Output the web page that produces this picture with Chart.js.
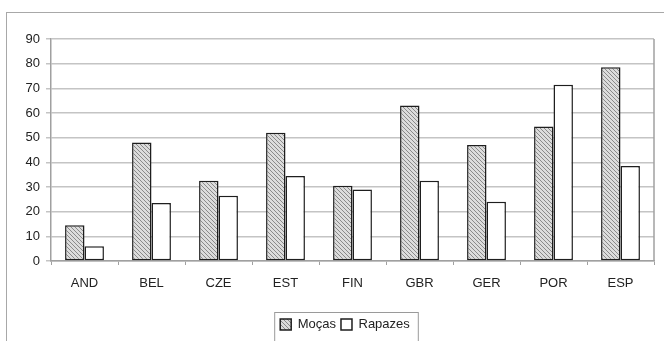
<!DOCTYPE html>
<html>
<head>
<meta charset="utf-8">
<script src="https://cdn.jsdelivr.net/npm/chart.js@4"></script>
<style>
  body { margin: 0; background: #fff; }
  #wrap { position: relative; width: 664px; height: 341px; }
  #frame { position: absolute; left: 6px; top: 12px; width: 670px; height: 340px;
           border-top: 1.5px solid #a8a8a8; border-left: 1.5px solid #a8a8a8; }
  canvas { position: absolute; left: 0; top: 0; }
</style>
</head>
<body>
<div id="wrap">
  <div id="frame"></div>
  <canvas id="barchart" width="664" height="341"></canvas>
</div>
<script>
var countries = ["AND", "BEL", "CZE", "EST", "FIN", "GBR", "GER", "POR", "ESP"];
var mocas = [14.5, 48, 32.5, 52, 30.5, 63, 47, 54.5, 78.5];
var rapazes = [6, 23.5, 26.5, 34.5, 29, 32.5, 24, 71.5, 38.5];
var yTicks = [0, 10, 20, 30, 40, 50, 60, 70, 80, 90];

function hatch() {
  var c = document.createElement("canvas");
  c.width = 4; c.height = 4;
  var g = c.getContext("2d");
  g.fillStyle = "#dcdcdc";
  g.fillRect(0, 0, 4, 4);
  g.strokeStyle = "#8a8a8a";
  g.lineWidth = 1;
  g.beginPath();
  g.moveTo(-1, -1); g.lineTo(5, 5);
  g.moveTo(-1, 3); g.lineTo(1, 5);
  g.moveTo(3, -1); g.lineTo(5, 1);
  g.stroke();
  return g.createPattern(c, "repeat");
}

var ctx = document.getElementById("barchart").getContext("2d");

// legend sits centred under the plot, not the whole canvas
var legendShift = 18;

var framePlugin = {
  id: "framePlugin",
  afterLayout: function(chart) {
    var lg = chart.legend;
    lg.left += legendShift;
    lg.right += legendShift;
    lg.legendHitBoxes.forEach(function(b) { b.left += legendShift; });
  },
  afterDraw: function(chart) {
    var a = chart.chartArea, c = chart.ctx;
    c.save();
    c.strokeStyle = "#a0a0a0";
    c.lineWidth = 1.5;
    c.beginPath();
    c.moveTo(a.right, a.top);
    c.lineTo(a.right, a.bottom);
    c.stroke();
    var lg = chart.legend;
    if (lg && lg.legendHitBoxes.length) {
      var boxes = lg.legendHitBoxes;
      var x0 = boxes[0].left - 6;
      var last = boxes[boxes.length - 1];
      var x1 = last.left + last.width + 8;
      var y0 = boxes[0].top - 6;
      c.strokeStyle = "#9a9a9a";
      c.lineWidth = 1;
      c.strokeRect(x0 + 0.5, y0 + 0.5, x1 - x0, 40);
    }
    c.restore();
  }
};

var myChart = new Chart(ctx, {
  type: "bar",
  data: {
    labels: countries,
    datasets: [
      {
        label: "Moças",
        data: mocas,
        backgroundColor: hatch(),
        borderColor: "#1e1e1e",
        borderWidth: 1.5,
        borderSkipped: false,
        categoryPercentage: 0.58,
        barPercentage: 1
      },
      {
        label: "Rapazes",
        data: rapazes,
        backgroundColor: "#ffffff",
        borderColor: "#1e1e1e",
        borderWidth: 1.5,
        borderSkipped: false,
        categoryPercentage: 0.58,
        barPercentage: 1
      }
    ]
  },
  options: {
    responsive: false,
    animation: false,
    layout: { padding: { top: 39, right: 10, left: 0, bottom: 0 } },
    plugins: {
      tooltip: { enabled: false },
      legend: {
        position: "bottom",
        labels: {
          boxWidth: 11,
          boxHeight: 11,
          padding: 5,
          color: "#222",
          font: { family: "Liberation Sans", size: 13 }
        }
      }
    },
    scales: {
      x: {
        grid: { offset: true, drawOnChartArea: false, tickLength: 4, color: "#a0a0a0", lineWidth: 1 },
        border: { color: "#a0a0a0", width: 1.5 },
        ticks: { color: "#222", font: { family: "Liberation Sans", size: 13 }, padding: 11 },
        afterFit: function(s) { s.height = 52; }
      },
      y: {
        min: 0,
        max: 90,
        afterBuildTicks: function(s) { s.ticks = yTicks.map(function(v) { return { value: v }; }); },
        grid: { color: "#c4c4c4", lineWidth: 1.5, tickLength: 5 },
        border: { color: "#a0a0a0", width: 1.5 },
        ticks: { color: "#222", font: { family: "Liberation Sans", size: 13 }, padding: 6 },
        afterFit: function(s) { s.width = 51; }
      }
    }
  },
  plugins: [framePlugin]
});
</script>
</body>
</html>
